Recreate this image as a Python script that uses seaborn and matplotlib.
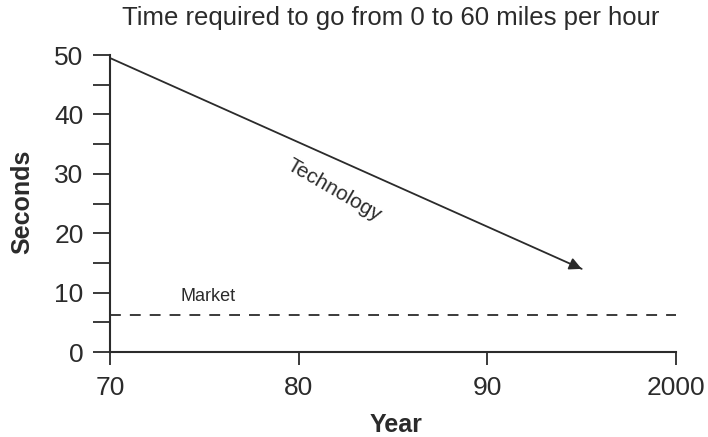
import numpy as np
import pandas as pd
import matplotlib
matplotlib.use('Agg')
import matplotlib.pyplot as plt
import seaborn as sns
from matplotlib.ticker import MultipleLocator

sns.set_theme(style='ticks')
plt.rcParams['font.family'] = ['Liberation Sans', 'DejaVu Sans']

# values
tech_years = [70, 95]
tech_seconds = [49.5, 14.0]
market_years = [70, 100]
market_seconds = [6.2, 6.2]
x_ticks = [70, 80, 90, 100]
x_labels = ['70', '80', '90', '2000']

INK = '#2b2b2b'

fig = plt.figure(figsize=(7.08, 4.37), dpi=100)
ax = fig.add_axes([0.1554, 0.1945, 0.7994, 0.6795])

tech = pd.DataFrame({'year': tech_years, 'seconds': tech_seconds})
market = pd.DataFrame({'year': market_years, 'seconds': market_seconds})

sns.lineplot(data=tech, x='year', y='seconds', ax=ax, color=INK, lw=1.3)
sns.lineplot(data=market, x='year', y='seconds', ax=ax, color=INK, lw=1.3,
             linestyle=(0, (6, 5)))

# arrowhead at the end of the technology line
slope = (tech_seconds[1] - tech_seconds[0]) / (tech_years[1] - tech_years[0])
ax.annotate('', xy=(tech_years[1], tech_seconds[1]),
            xytext=(tech_years[1] - 0.6, tech_seconds[1] - 0.6 * slope),
            arrowprops=dict(arrowstyle='-|>', color=INK, lw=1.3, mutation_scale=18,
                            shrinkA=0, shrinkB=0))

ax.text(81.9, 27.3, 'Technology', rotation=-30, ha='center', va='center',
        fontsize=15, color=INK)
ax.text(75.2, 9.4, 'Market', ha='center', va='center', fontsize=13, color=INK)

ax.set_xlim(70, 100)
ax.set_ylim(0, 50)
ax.set_xticks(x_ticks)
ax.set_xticklabels(x_labels)
ax.yaxis.set_major_locator(MultipleLocator(10))
ax.yaxis.set_minor_locator(MultipleLocator(5))

for s in ['top', 'right']:
    ax.spines[s].set_visible(False)
for s in ['left', 'bottom']:
    ax.spines[s].set_color(INK)
    ax.spines[s].set_linewidth(1.5)

ax.tick_params(axis='y', which='both', direction='out', length=12, width=1.3,
               color=INK, labelsize=19, labelcolor=INK, pad=7)
ax.tick_params(axis='x', which='major', direction='out', length=9, width=1.3,
               color=INK, labelsize=19, labelcolor=INK, pad=8)

ax.set_xlabel('Year', fontsize=18, fontweight='bold', color=INK)
ax.set_ylabel('Seconds', fontsize=18, fontweight='bold', color=INK)
ax.xaxis.set_label_coords(0.505, -0.205)
ax.yaxis.set_label_coords(-0.133, 0.505)
fig.text(0.552, 0.958, 'Time required to go from 0 to 60 miles per hour',
         ha='center', va='center', fontsize=18.5, color=INK)

fig.savefig('out.png', dpi=100)
plt.close(fig)
